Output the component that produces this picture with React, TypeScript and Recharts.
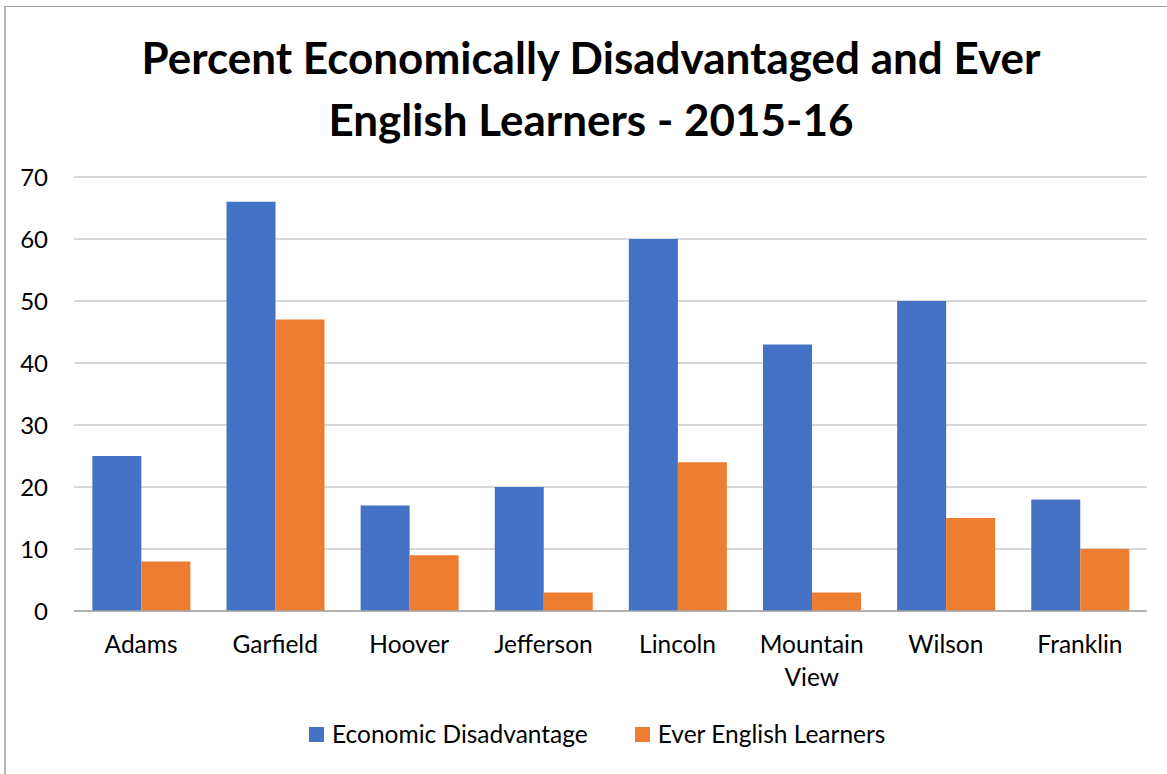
import React from "react";
import {
  BarChart,
  Bar,
  XAxis,
  YAxis,
  CartesianGrid,
} from "recharts";

const schools = [
  "Adams",
  "Garfield",
  "Hoover",
  "Jefferson",
  "Lincoln",
  "Mountain View",
  "Wilson",
  "Franklin",
];
const econDisadvantage = [25, 66, 17, 20, 60, 43, 50, 18];
const everEnglishLearners = [8, 47, 9, 3, 24, 3, 15, 10];
const yTicks = [0, 10, 20, 30, 40, 50, 60, 70];
const titleLines = [
  "Percent Economically Disadvantaged and Ever",
  "English Learners - 2015-16",
];

const series = [
  { key: "econ", name: "Economic Disadvantage", color: "#4472C4" },
  { key: "ell", name: "Ever English Learners", color: "#ED7D31" },
];

const FONT = "Lato, 'Open Sans', sans-serif";

const data = schools.map((s, i) => ({
  school: s,
  econ: econDisadvantage[i],
  ell: everEnglishLearners[i],
}));

// category label, split into lines on spaces (only "Mountain View" has one)
function SchoolTick(props: any) {
  const { x, y, payload } = props;
  const words = String(payload.value).split(" ");
  return (
    <text
      x={x}
      y={y}
      textAnchor="middle"
      fill="#000"
      fontSize={24.5}
      fontFamily={FONT}
    >
      {words.map((w, i) => (
        <tspan key={i} x={x} dy={i === 0 ? "0.71em" : 33}>
          {w}
        </tspan>
      ))}
    </text>
  );
}

export default function App() {
  return (
    <div
      style={{
        position: "fixed",
        left: 0,
        top: 0,
        width: 1167,
        height: 774,
        background: "#fff",
        overflow: "hidden",
        fontFamily: FONT,
      }}
    >
      {/* frame (only top + left visible in the crop) */}
      <div
        style={{
          position: "absolute",
          left: 4,
          top: 6,
          width: 1200,
          height: 800,
          borderTop: "1px solid #a0a0a0",
          borderLeft: "2px solid #b4b4b4",
        }}
      />

      <svg
        width={1167}
        height={160}
        style={{ position: "absolute", left: 0, top: 0 }}
      >
        {titleLines.map((t, i) => (
          <text
            key={i}
            x={591}
            y={74 + i * 62}
            textAnchor="middle"
            fontFamily={FONT}
            fontWeight={700}
            fontSize={44}
            fill="#000"
          >
            {t}
          </text>
        ))}
      </svg>

      <div style={{ position: "absolute", left: 0, top: 0 }}>
        <BarChart
          width={1167}
          height={774}
          data={data}
          margin={{ top: 177, right: 20, bottom: 83, left: 0 }}
          barCategoryGap="13.7%"
          barGap={0}
        >
          <CartesianGrid
            vertical={false}
            stroke="#b0b0b0"
            strokeWidth={1}
          />
          <XAxis
            dataKey="school"
            height={80}
            interval={0}
            tickLine={false}
            tickSize={0}
            tickMargin={25}
            axisLine={{ stroke: "#a6a6a6", strokeWidth: 1.5 }}
            tick={<SchoolTick />}
          />
          <YAxis
            width={74}
            domain={[0, 70]}
            ticks={yTicks}
            axisLine={false}
            tickLine={false}
            tickSize={0}
            tickMargin={26}
            tick={{ fill: "#000", fontSize: 24, fontFamily: FONT }}
          />
          {series.map((s) => (
            <Bar
              key={s.key}
              dataKey={s.key}
              name={s.name}
              fill={s.color}
              isAnimationActive={false}
            />
          ))}
        </BarChart>
      </div>

      {/* legend */}
      <div
        style={{
          position: "absolute",
          left: 309,
          top: 720,
          display: "flex",
          alignItems: "center",
          gap: 47,
        }}
      >
        {series.map((s) => (
          <div
            key={s.key}
            style={{ display: "flex", alignItems: "center", gap: 8 }}
          >
            <div style={{ width: 15, height: 15, background: s.color }} />
            <span style={{ fontSize: 24.5, color: "#000", lineHeight: "28px" }}>
              {s.name}
            </span>
          </div>
        ))}
      </div>
    </div>
  );
}
